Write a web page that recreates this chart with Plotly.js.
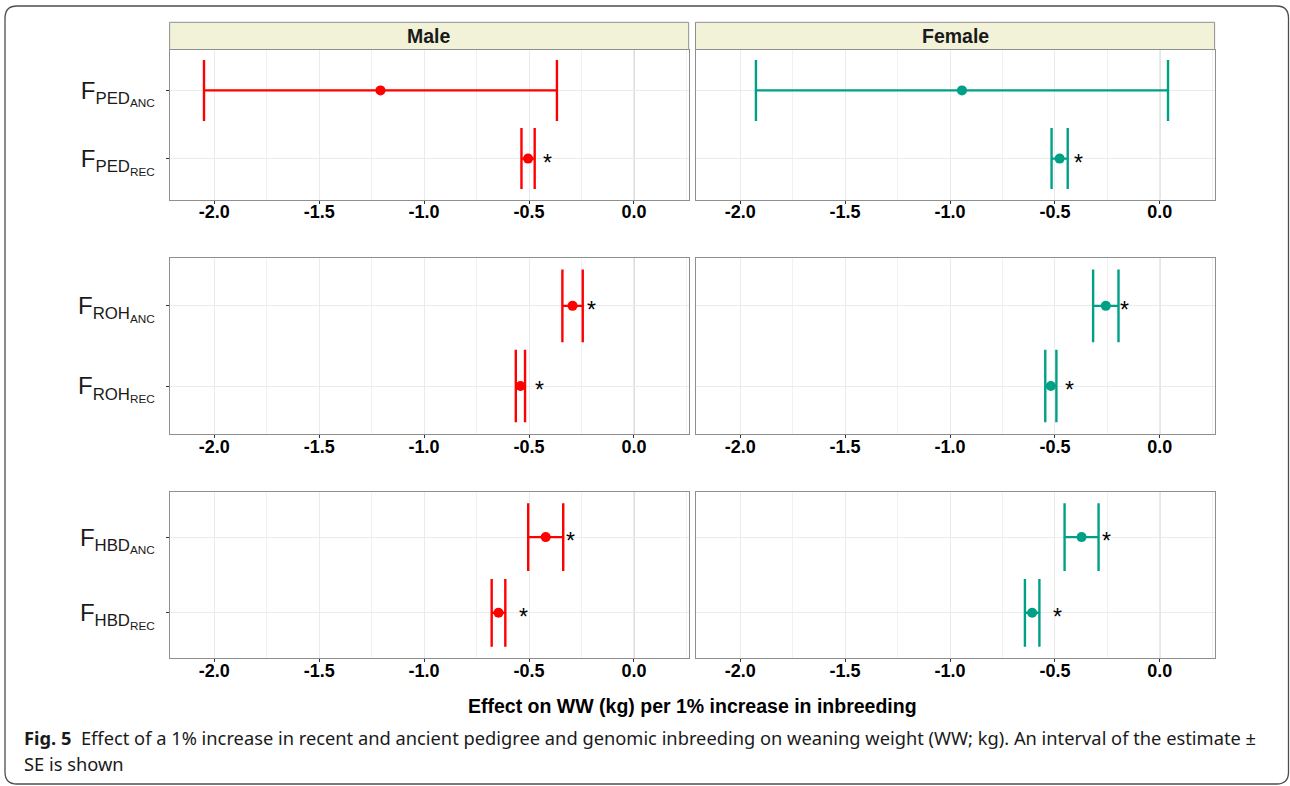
<!DOCTYPE html>
<html>
<head>
<meta charset="utf-8">
<script src="https://cdn.plot.ly/plotly-3.0.1.min.js"></script>
<style>html,body{margin:0;padding:0;background:#fff;}#chart{width:1290px;height:786px;}</style>
</head>
<body>
<div id="chart"></div>
<script>
// ---------- data ----------
const sexes = ['Male', 'Female'];
const measures = ['PED', 'ROH', 'HBD'];
const periods = ['ANC', 'REC'];
// order: PED_ANC, PED_REC, ROH_ANC, ROH_REC, HBD_ANC, HBD_REC
const maleEst = [-1.208, -0.5045, -0.2925, -0.541, -0.4205, -0.6455];
const maleSE = [0.841, 0.0315, 0.0485, 0.022, 0.0835, 0.0325];
const femaleEst = [-0.943, -0.4775, -0.2575, -0.5195, -0.373, -0.6085];
const femaleSE = [0.982, 0.0385, 0.0605, 0.0265, 0.081, 0.0345];
const maleSig = ['', '*', '*', '*', '*', '*'];
const femaleSig = ['', '*', '*', '*', '*', '*'];
const maleSigX = [null, -0.414, -0.203, -0.452, -0.303, -0.526];
const femaleSigX = [null, -0.39, -0.167, -0.431, -0.254, -0.489];
const xTicks = [-2.0, -1.5, -1.0, -0.5, 0.0];
const xTitle = 'Effect on WW (kg) per 1% increase in inbreeding';
const caption1 = '<b>Fig. 5</b>  Effect of a 1% increase in recent and ancient pedigree and genomic inbreeding on weaning weight (WW; kg). An interval of the estimate \u00b1';
const caption2 = 'SE is shown';

// ---------- layout helpers ----------
const W = 1290, H = 786;
const px = v => v / W;
const py = v => 1 - v / H;
const colors = ['#ff0000', '#00a087'];
const colX = [[169.6, 688.7], [695.5, 1214.6]];
const rowY = [[49.5, 199.5], [257.7, 434.2], [491.7, 658.2]];
const capHalf = [30.5, 36.3, 33.9];
const xRange = [-2.213, 0.261];

const ests = [maleEst, femaleEst];
const ses = [maleSE, femaleSE];
const sigs = [maleSig, femaleSig];
const sigXs = [maleSigX, femaleSigX];

const label = (m, p) => 'F<sub>' + m + '<sub>' + p + '</sub></sub>';

const traces = [];
const layout = {
  width: W, height: H,
  margin: {l: 0, r: 0, t: 0, b: 0},
  paper_bgcolor: '#ffffff', plot_bgcolor: '#ffffff',
  showlegend: false,
  shapes: [], annotations: []
};

measures.forEach((m, r) => {
  sexes.forEach((s, c) => {
    const k = r * 2 + c + 1;
    const xa = k === 1 ? 'xaxis' : 'xaxis' + k;
    const ya = k === 1 ? 'yaxis' : 'yaxis' + k;
    const xr = k === 1 ? 'x' : 'x' + k;
    const yr = k === 1 ? 'y' : 'y' + k;
    const cats = periods.map(p => label(m, p));
    const xs = periods.map((p, i) => ests[c][r * 2 + i]);
    const es = periods.map((p, i) => ses[c][r * 2 + i]);
    traces.push({
      type: 'scatter', mode: 'markers',
      x: xs, y: cats, xaxis: xr, yaxis: yr,
      marker: {color: colors[c], size: 10},
      error_x: {type: 'data', array: es, visible: true, color: colors[c], thickness: 2.4, width: capHalf[r]},
      hoverinfo: 'x+y'
    });
    layout[xa] = {
      domain: [px(colX[c][0]), px(colX[c][1])],
      anchor: yr, range: xRange, autorange: false,
      tickmode: 'array', tickvals: xTicks, ticktext: xTicks.map(v => v.toFixed(1)),
      tickfont: {family: 'Liberation Sans, Arial, sans-serif', size: 18, color: '#000', weight: 'bold'},
      ticks: 'outside', ticklen: 3, tickcolor: '#333', tickwidth: 1,
      ticklabelstandoff: -7,
      showline: true, mirror: true, linecolor: '#8f8f8f', linewidth: 1,
      showgrid: true, gridcolor: '#ebebeb', gridwidth: 1,
      minor: {dtick: 0.25, tick0: 0, showgrid: true, gridcolor: '#f1f1f1', gridwidth: 1},
      zeroline: false, fixedrange: true
    };
    layout[ya] = {
      domain: [py(rowY[r][1]), py(rowY[r][0])],
      anchor: xr, type: 'category',
      categoryorder: 'array', categoryarray: cats.slice().reverse(),
      range: [-0.6, 1.6], autorange: false,
      showticklabels: c === 0,
      tickfont: {family: 'Liberation Sans, Arial, sans-serif', size: 24, color: '#1a1a1a'},
      ticks: c === 0 ? 'outside' : '', ticklen: 3, tickcolor: '#333',
      ticklabelstandoff: 6,
      showline: true, mirror: true, linecolor: '#8f8f8f', linewidth: 1,
      showgrid: true, gridcolor: '#ebebeb', gridwidth: 1,
      zeroline: false, fixedrange: true
    };
    layout.shapes.push({
      type: 'line', xref: xr, yref: yr + ' domain', x0: 0, x1: 0, y0: 0, y1: 1,
      line: {color: '#b3b3b3', width: 1}, layer: 'below'
    });
    periods.forEach((p, i) => {
      const t = sigs[c][r * 2 + i];
      if (t) {
        layout.annotations.push({
          xref: xr, yref: yr, x: sigXs[c][r * 2 + i], y: label(m, p),
          text: t, showarrow: false, xanchor: 'center', yanchor: 'middle', yshift: -4,
          font: {family: 'Liberation Sans, Arial, sans-serif', size: 23, color: '#000'}
        });
      }
    });
  });
});

// strips
sexes.forEach((s, c) => {
  layout.shapes.push({
    type: 'rect', xref: 'paper', yref: 'paper',
    x0: px(colX[c][0]), x1: px(colX[c][1]), y0: py(rowY[0][0]), y1: py(22.3),
    fillcolor: '#f2f2d8', line: {color: '#8f8f8f', width: 1}
  });
  layout.annotations.push({
    xref: 'paper', yref: 'paper', x: px((colX[c][0] + colX[c][1]) / 2), y: py(36),
    text: '<b>' + s + '</b>', showarrow: false, xanchor: 'center', yanchor: 'middle',
    font: {family: 'Liberation Sans, Arial, sans-serif', size: 19.5, color: '#1a1a1a'}
  });
});

// x title
layout.annotations.push({
  xref: 'paper', yref: 'paper', x: px((colX[0][0] + colX[1][1]) / 2), y: py(706),
  text: '<b>' + xTitle + '</b>', showarrow: false, xanchor: 'center', yanchor: 'middle',
  font: {family: 'Liberation Sans, Arial, sans-serif', size: 19.5, color: '#000'}
});
// caption
[[caption1, 737], [caption2, 763]].forEach(([t, y]) => {
  layout.annotations.push({
    xref: 'paper', yref: 'paper', x: px(22), y: py(y),
    text: t, showarrow: false, xanchor: 'left', yanchor: 'middle',
    font: {family: 'Noto Sans, Open Sans, sans-serif', size: 18.3, color: '#1a1a1a'}
  });
});

// rounded frame
(function () {
  const x0 = px(5), x1 = px(1288.5), yt = py(6), yb = py(784);
  const rx = 12 / W, ry = 12 / H;
  const f = v => v.toFixed(5);
  const path = 'M' + f(x0 + rx) + ',' + f(yt) + ' L' + f(x1 - rx) + ',' + f(yt) +
    ' Q' + f(x1) + ',' + f(yt) + ' ' + f(x1) + ',' + f(yt - ry) +
    ' L' + f(x1) + ',' + f(yb + ry) +
    ' Q' + f(x1) + ',' + f(yb) + ' ' + f(x1 - rx) + ',' + f(yb) +
    ' L' + f(x0 + rx) + ',' + f(yb) +
    ' Q' + f(x0) + ',' + f(yb) + ' ' + f(x0) + ',' + f(yb + ry) +
    ' L' + f(x0) + ',' + f(yt - ry) +
    ' Q' + f(x0) + ',' + f(yt) + ' ' + f(x0 + rx) + ',' + f(yt) + ' Z';
  layout.shapes.push({type: 'path', xref: 'paper', yref: 'paper', path: path,
    line: {color: '#4d4d4d', width: 1.3}, fillcolor: 'rgba(0,0,0,0)'});
})();

Plotly.newPlot('chart', traces, layout, {displayModeBar: false, staticPlot: true});
</script>
</body>
</html>
